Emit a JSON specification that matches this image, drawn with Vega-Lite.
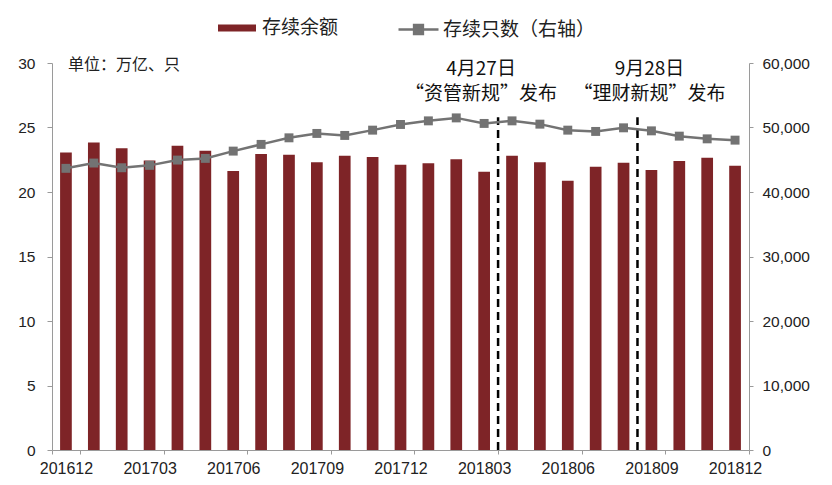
{
  "$schema": "https://vega.github.io/schema/vega-lite/v6.json",
  "autosize": {"type": "none"},
  "padding": {"left": 52, "top": 63, "right": 83, "bottom": 35},
  "width": 697,
  "height": 387,
  "background": "white",
  "config": {
    "view": {"stroke": null},
    "font": "Liberation Sans",
    "axis": {
      "domainColor": "#9a9a9a",
      "tickColor": "#9a9a9a",
      "labelColor": "#222222",
      "labelFont": "Liberation Sans",
      "labelFontSize": 15.5,
      "grid": false,
      "title": null
    },
    "legend": {"title": null, "labelFont": "Noto Sans CJK SC", "labelFontSize": 19, "labelColor": "#222222"}
  },
  "datasets": {
    "main": [
      {"month": "201612", "balance": 23.07, "count": 43670},
      {"month": "201701", "balance": 23.84, "count": 44490},
      {"month": "201702", "balance": 23.40, "count": 43760},
      {"month": "201703", "balance": 22.45, "count": 44130},
      {"month": "201704", "balance": 23.58, "count": 44950},
      {"month": "201705", "balance": 23.20, "count": 45210},
      {"month": "201706", "balance": 21.62, "count": 46340},
      {"month": "201707", "balance": 22.94, "count": 47380},
      {"month": "201708", "balance": 22.89, "count": 48400},
      {"month": "201709", "balance": 22.30, "count": 49080},
      {"month": "201710", "balance": 22.81, "count": 48770},
      {"month": "201711", "balance": 22.71, "count": 49590},
      {"month": "201712", "balance": 22.11, "count": 50470},
      {"month": "201801", "balance": 22.22, "count": 51030},
      {"month": "201802", "balance": 22.53, "count": 51490},
      {"month": "201803", "balance": 21.57, "count": 50630},
      {"month": "201804", "balance": 22.81, "count": 51030},
      {"month": "201805", "balance": 22.30, "count": 50520},
      {"month": "201806", "balance": 20.87, "count": 49590},
      {"month": "201807", "balance": 21.96, "count": 49390},
      {"month": "201808", "balance": 22.27, "count": 49950},
      {"month": "201809", "balance": 21.70, "count": 49480},
      {"month": "201810", "balance": 22.40, "count": 48660},
      {"month": "201811", "balance": 22.65, "count": 48240},
      {"month": "201812", "balance": 22.03, "count": 48040}
    ],
    "notes": [
      {"month": "201804", "date": "4月27日", "event": "“资管新规”发布"},
      {"month": "201809", "date": "9月28日", "event": "“理财新规”发布"}
    ],
    "unit": [
      {"month": "201612", "text": "单位：万亿、只"}
    ]
  },
  "layer": [
    {
      "layer": [
        {
          "data": {"name": "main"},
          "mark": {"type": "bar", "width": {"band": 0.42}},
          "encoding": {
            "x": {
              "field": "month",
              "type": "ordinal",
              "scale": {"paddingInner": 0, "paddingOuter": 0},
              "axis": {
                "values": ["201612", "201703", "201706", "201709", "201712", "201803", "201806", "201809", "201812"],
                "tickBand": "extent",
                "labelAngle": 0,
                "tickSize": 4,
                "labelPadding": 6,
                "labelFontSize": 16
              }
            },
            "y": {
              "field": "balance",
              "type": "quantitative",
              "scale": {"domain": [0, 30], "nice": false},
              "axis": {"orient": "left", "values": [0, 5, 10, 15, 20, 25, 30], "tickSize": 5, "labelPadding": 12}
            },
            "color": {
              "datum": "存续余额",
              "scale": {"range": ["#7e2427"]},
              "legend": {
                "orient": "none",
                "legendX": 166,
                "legendY": -54,
                "symbolType": "M-1,-0.18H1V0.18H-1Z",
                "symbolSize": 1444,
                "symbolStrokeWidth": 0,
                "labelOffset": 6
              }
            }
          }
        },
        {
          "data": {"name": "notes"},
          "mark": {"type": "rule", "strokeDash": [8, 5], "strokeWidth": 2.5, "color": "#000000"},
          "encoding": {
            "x": {"field": "month", "type": "ordinal", "bandPosition": 0},
            "y": {"datum": 0},
            "y2": {"datum": 25.8}
          }
        },
        {
          "data": {"name": "notes"},
          "transform": [{"filter": "datum.month == '201804'"}],
          "mark": {"type": "text", "font": "Noto Sans CJK SC", "fontSize": 19, "color": "#111111", "align": "center", "baseline": "middle", "dx": -17},
          "encoding": {
            "x": {"field": "month", "type": "ordinal", "bandPosition": 0},
            "y": {"datum": 29.55},
            "text": {"field": "date"}
          }
        },
        {
          "data": {"name": "notes"},
          "transform": [{"filter": "datum.month == '201804'"}],
          "mark": {"type": "text", "font": "Noto Sans CJK SC", "fontSize": 19, "color": "#111111", "align": "center", "baseline": "middle", "dx": -17},
          "encoding": {
            "x": {"field": "month", "type": "ordinal", "bandPosition": 0},
            "y": {"datum": 27.6},
            "text": {"field": "event"}
          }
        },
        {
          "data": {"name": "notes"},
          "transform": [{"filter": "datum.month == '201809'"}],
          "mark": {"type": "text", "font": "Noto Sans CJK SC", "fontSize": 19, "color": "#111111", "align": "center", "baseline": "middle", "dx": 12},
          "encoding": {
            "x": {"field": "month", "type": "ordinal", "bandPosition": 0},
            "y": {"datum": 29.55},
            "text": {"field": "date"}
          }
        },
        {
          "data": {"name": "notes"},
          "transform": [{"filter": "datum.month == '201809'"}],
          "mark": {"type": "text", "font": "Noto Sans CJK SC", "fontSize": 19, "color": "#111111", "align": "center", "baseline": "middle", "dx": 12},
          "encoding": {
            "x": {"field": "month", "type": "ordinal", "bandPosition": 0},
            "y": {"datum": 27.6},
            "text": {"field": "event"}
          }
        },
        {
          "data": {"name": "unit"},
          "mark": {"type": "text", "font": "Noto Sans CJK SC", "fontSize": 16, "color": "#222222", "align": "left", "baseline": "middle", "dx": 2},
          "encoding": {
            "x": {"field": "month", "type": "ordinal"},
            "y": {"datum": 29.85},
            "text": {"field": "text"}
          }
        }
      ]
    },
    {
      "data": {"name": "main"},
      "mark": {"type": "line", "strokeWidth": 2.5, "point": {"shape": "square", "size": 80, "filled": true}},
      "encoding": {
        "x": {"field": "month", "type": "ordinal"},
        "y": {
          "field": "count",
          "type": "quantitative",
          "scale": {"domain": [0, 60000], "nice": false},
          "axis": {"orient": "right", "values": [0, 10000, 20000, 30000, 40000, 50000, 60000], "format": ",.0f", "tickSize": 4, "labelPadding": 9}
        },
        "color": {
          "datum": "存续只数（右轴）",
          "scale": {"range": ["#737373"]},
          "legend": {
            "orient": "none",
            "legendX": 345,
            "legendY": -55,
            "symbolType": "M-1,0H1M-0.22,-0.22H0.22V0.22H-0.22Z",
            "symbolSize": 1600,
            "symbolStrokeWidth": 2.5,
            "symbolFillColor": "#737373",
            "labelOffset": 3
          }
        }
      }
    }
  ],
  "resolve": {"scale": {"y": "independent", "color": "independent"}, "axis": {"y": "independent"}}
}
